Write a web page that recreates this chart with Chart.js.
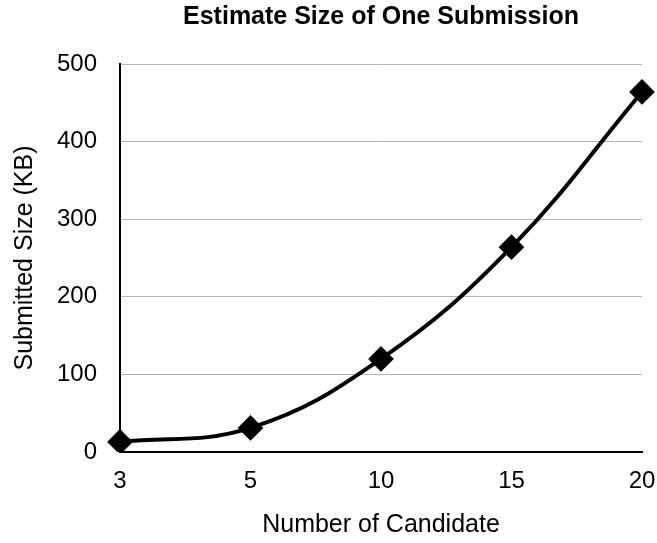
<!DOCTYPE html>
<html>
<head>
<meta charset="utf-8">
<script src="https://cdn.jsdelivr.net/npm/chart.js@4"></script>
<style>
  html, body { margin: 0; padding: 0; background: #fff; }
  #wrap { width: 657px; height: 543px; }
</style>
</head>
<body>
<div id="wrap"><canvas id="sizeChart"></canvas></div>
<script>
const candidates = ['3', '5', '10', '15', '20'];
const submittedKB = [13, 31, 120, 264, 464];
const yTicks = [0, 100, 200, 300, 400, 500];

const fontFamily = '"Liberation Sans", Arial, Helvetica, sans-serif';

const ctx = document.getElementById('sizeChart').getContext('2d');

new Chart(ctx, {
    type: 'line',
    data: {
        labels: candidates,
        datasets: [{
            label: 'Submitted Size',
            data: submittedKB,
            borderColor: '#000',
            backgroundColor: '#000',
            borderWidth: 4,
            tension: 0.4,
            pointStyle: 'rectRot',
            pointRadius: 10,
            pointHoverRadius: 10,
            fill: false
        }]
    },
    options: {
        responsive: true,
        maintainAspectRatio: false,
        animation: false,
        layout: { padding: { left: 0, right: 15, top: 0, bottom: 0 } },
        plugins: {
            legend: { display: false },
            tooltip: { enabled: false },
            title: {
                display: true,
                text: 'Estimate Size of One Submission',
                fullSize: false,
                color: '#000',
                font: { family: fontFamily, size: 25, weight: 'bold' },
                padding: { top: 2, bottom: 32 }
            }
        },
        scales: {
            x: {
                type: 'category',
                offset: false,
                grid: { display: false, drawTicks: false },
                border: { display: true, color: '#000', width: 2 },
                ticks: {
                    color: '#000',
                    padding: 15,
                    maxRotation: 0,
                    font: { family: fontFamily, size: 24 }
                },
                title: {
                    display: true,
                    text: 'Number of Candidate',
                    color: '#000',
                    font: { family: fontFamily, size: 25 },
                    padding: { top: 0, bottom: 3 }
                },
                afterFit: scale => {
                    scale.height = 91;
                    // stop the last label from pulling the plot in
                    scale.paddingLeft = 0;
                    scale.paddingRight = 0;
                }
            },
            y: {
                min: yTicks[0],
                max: yTicks[yTicks.length - 1],
                grid: { color: '#b4b4b4', lineWidth: 1, drawTicks: false },
                border: { display: true, color: '#000', width: 2 },
                afterBuildTicks: scale => {
                    scale.ticks = yTicks.map(v => ({ value: v }));
                },
                ticks: {
                    color: '#000',
                    padding: 23,
                    font: { family: fontFamily, size: 24 }
                },
                title: {
                    display: true,
                    text: 'Submitted Size (KB)',
                    color: '#000',
                    font: { family: fontFamily, size: 25 },
                    padding: { top: 10, bottom: 0 }
                },
                afterFit: scale => { scale.width = 120; }
            }
        }
    }
});
</script>
</body>
</html>
